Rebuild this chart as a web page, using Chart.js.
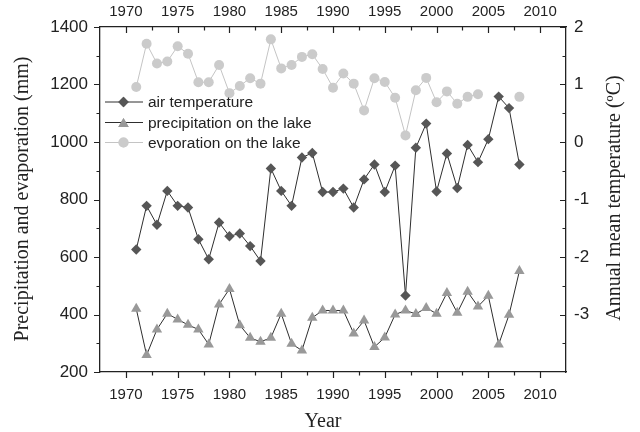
<!DOCTYPE html>
<html>
<head>
<meta charset="utf-8">
<script src="https://cdn.jsdelivr.net/npm/chart.js@4/dist/chart.umd.min.js"></script>
<style>
  body { margin: 0; background: #fff; }
  #wrap { width: 640px; height: 432px; }
</style>
</head>
<body>
<div id="wrap"><canvas id="lake-chart" width="640" height="432"></canvas></div>
<script>
// =============================
// DATA
// =============================
const years = [1971, 1972, 1973, 1974, 1975, 1976, 1977, 1978, 1979, 1980,
               1981, 1982, 1983, 1984, 1985, 1986, 1987, 1988, 1989, 1990,
               1991, 1992, 1993, 1994, 1995, 1996, 1997, 1998, 1999, 2000,
               2001, 2002, 2003, 2004, 2005, 2006, 2007, 2008];

// annual mean air temperature (ºC), right axis
const airTemp = [-1.87, -1.11, -1.44, -0.85, -1.11, -1.14, -1.69, -2.04, -1.40, -1.64,
                 -1.59, -1.81, -2.07, -0.46, -0.85, -1.11, -0.27, -0.19, -0.87, -0.87,
                 -0.81, -1.14, -0.65, -0.39, -0.87, -0.41, -2.67, -0.10, 0.32, -0.86,
                 -0.20, -0.80, -0.05, -0.35, 0.05, 0.79, 0.59, -0.39];

// precipitation on the lake (mm), left axis
const precipitation = [420, 259, 348, 403, 383, 364, 348, 296, 435, 489,
                       363, 319, 305, 319, 403, 298, 275, 389, 414, 414,
                       414, 334, 379, 287, 320, 400, 414, 402, 423, 403,
                       475, 406, 479, 428, 465, 296, 399, 551];

// evaporation on the lake (mm), left axis
const evaporation = [1191, 1342, 1273, 1280, 1333, 1307, 1208, 1208, 1268, 1170,
                     1195, 1222, 1203, 1357, 1256, 1268, 1296, 1305, 1254, 1189,
                     1238, 1203, 1110, 1222, 1209, 1154, 1023, 1180, 1223, 1138,
                     1176, 1133, 1157, 1166, null, null, null, 1157];

const seriesNames = ['air temperature', 'precipitation on the lake', 'evporation on the lake'];

const yearTicks = [1970, 1975, 1980, 1985, 1990, 1995, 2000, 2005, 2010];
const mmTicks = [200, 400, 600, 800, 1000, 1200, 1400];
const tempTicks = [-3, -2, -1, 0, 1, 2];

const axisColor = '#222';
const textColor = '#222';
const tickFont = 'Liberation Sans, Arial, sans-serif';
const titleFont = '"Liberation Serif", "Times New Roman", serif';

const toPoints = vals => years.map((yr, i) => ({ x: yr, y: vals[i] }));

function fixedTicks(list) {
    return scale => { scale.ticks = list.map(v => ({ value: v })); };
}

function xAxis(position, height, pad) {
    return {
        type: 'linear',
        position: position,
        min: 1967.5,
        max: 2012.5,
        grid: { display: false, drawTicks: false },
        border: { display: true, color: axisColor, width: 1.3 },
        ticks: {
            color: textColor,
            font: { family: tickFont, size: 15 },
            padding: pad,
            maxRotation: 0,
            autoSkip: false,
            callback: v => String(v)
        },
        afterBuildTicks: fixedTicks(yearTicks),
        afterFit: s => { s.height = height; }
    };
}

// minor + major tick marks, drawn by hand since Chart.js has no minor ticks
function drawTicks(ctx, scale, values, len, dir) {
    ctx.beginPath();
    values.forEach(v => {
        const p = Math.round(scale.getPixelForValue(v)) + 0.5;
        if (scale.isHorizontal()) {
            const y0 = scale.position === 'top' ? scale.bottom : scale.top;
            ctx.moveTo(p, y0);
            ctx.lineTo(p, y0 + dir * len);
        } else {
            const x0 = scale.position === 'left' ? scale.right : scale.left;
            ctx.moveTo(x0, p);
            ctx.lineTo(x0 + dir * len, p);
        }
    });
    ctx.stroke();
}

const decorPlugin = {
    id: 'decor',
    afterDraw(chart) {
        const ctx = chart.ctx;
        const s = chart.scales;
        ctx.save();
        ctx.strokeStyle = axisColor;
        ctx.lineWidth = 1.2;

        const minorYears = [1972.5, 1977.5, 1982.5, 1987.5, 1992.5, 1997.5, 2002.5, 2007.5];
        const minorMm = [300, 500, 700, 900, 1100, 1300];
        const minorTemp = [-3.5, -2.5, -1.5, -0.5, 0.5, 1.5];

        drawTicks(ctx, s.x, yearTicks, 6, 1);
        drawTicks(ctx, s.x, minorYears, 3.5, 1);
        drawTicks(ctx, s.x2, yearTicks, 6, 1);
        drawTicks(ctx, s.x2, minorYears, 3.5, 1);
        drawTicks(ctx, s.y, mmTicks, 6, -1);
        drawTicks(ctx, s.y, minorMm, 3.5, -1);
        drawTicks(ctx, s.y2, tempTicks, 6, -1);
        drawTicks(ctx, s.y2, minorTemp, 3.5, -1);

        // axis titles
        ctx.fillStyle = textColor;
        ctx.font = '20px ' + titleFont;
        ctx.textAlign = 'center';
        ctx.textBaseline = 'middle';
        ctx.fillText('Year', 323, 422);

        ctx.save();
        ctx.translate(23, 199);
        ctx.rotate(-Math.PI / 2);
        ctx.fillText('Precipitation and evaporation (mm)', 0, 0);
        ctx.restore();

        ctx.save();
        ctx.translate(615, 198);
        ctx.rotate(-Math.PI / 2);
        ctx.fillText('Annual mean temperature (ºC)', 0, 0);
        ctx.restore();

        // legend inside plot
        const rows = [102, 122.5, 142.5];
        chart.data.datasets.forEach((ds, i) => {
            const y = rows[i];
            ctx.strokeStyle = ds.borderColor;
            ctx.lineWidth = ds.borderWidth;
            ctx.beginPath();
            ctx.moveTo(105, y);
            ctx.lineTo(143, y);
            ctx.stroke();
            ctx.fillStyle = ds.pointBackgroundColor;
            Chart.helpers.drawPoint(ctx, {
                pointStyle: ds.pointStyle,
                radius: ds.pointRadius,
                borderWidth: 0,
                rotation: 0
            }, 123.5, ds.pointStyle === 'triangle' ? y + 1.5 : y);
            ctx.fill();
            ctx.fillStyle = textColor;
            ctx.font = '15.5px ' + tickFont;
            ctx.textAlign = 'left';
            ctx.fillText(ds.label, 148, y + 1);
        });
        ctx.restore();
    }
};

const ctx = document.getElementById('lake-chart').getContext('2d');
new Chart(ctx, {
    type: 'line',
    data: {
        datasets: [{
            label: seriesNames[0],
            data: toPoints(airTemp),
            yAxisID: 'y2',
            borderColor: '#2e2e2e',
            borderWidth: 1,
            pointStyle: 'rectRot',
            pointRadius: 5.2,
            pointBackgroundColor: '#565656',
            pointBorderColor: '#565656',
            pointBorderWidth: 0,
            tension: 0
        }, {
            label: seriesNames[1],
            data: toPoints(precipitation),
            yAxisID: 'y',
            borderColor: '#2e2e2e',
            borderWidth: 1,
            pointStyle: 'triangle',
            pointRadius: 6,
            pointBackgroundColor: '#999999',
            pointBorderColor: '#999999',
            pointBorderWidth: 0,
            tension: 0
        }, {
            label: seriesNames[2],
            data: toPoints(evaporation),
            yAxisID: 'y',
            borderColor: '#c4c4c4',
            borderWidth: 1,
            pointStyle: 'circle',
            pointRadius: 5,
            pointBackgroundColor: '#cbcbcb',
            pointBorderColor: '#cbcbcb',
            pointBorderWidth: 0,
            spanGaps: false,
            tension: 0
        }]
    },
    options: {
        responsive: false,
        animation: false,
        layout: { padding: 0 },
        scales: {
            x: xAxis('bottom', 60, 14),
            x2: xAxis('top', 27, 6),
            y: {
                type: 'linear',
                position: 'left',
                min: 200,
                max: 1400,
                grid: { display: false, drawTicks: false },
                border: { display: true, color: axisColor, width: 1.3 },
                ticks: {
                    color: textColor,
                    font: { family: tickFont, size: 17 },
                    padding: 12,
                    callback: v => String(v)
                },
                afterBuildTicks: fixedTicks(mmTicks),
                afterFit: sc => { sc.width = 100; }
            },
            y2: {
                type: 'linear',
                position: 'right',
                min: -4,
                max: 2,
                grid: { display: false, drawTicks: false },
                border: { display: true, color: axisColor, width: 1.3 },
                ticks: {
                    color: textColor,
                    font: { family: tickFont, size: 17 },
                    padding: 8,
                    callback: v => String(v)
                },
                afterBuildTicks: fixedTicks(tempTicks),
                afterFit: sc => { sc.width = 74; }
            }
        },
        plugins: {
            legend: { display: false },
            tooltip: { enabled: false }
        }
    },
    plugins: [decorPlugin]
});
</script>
</body>
</html>
